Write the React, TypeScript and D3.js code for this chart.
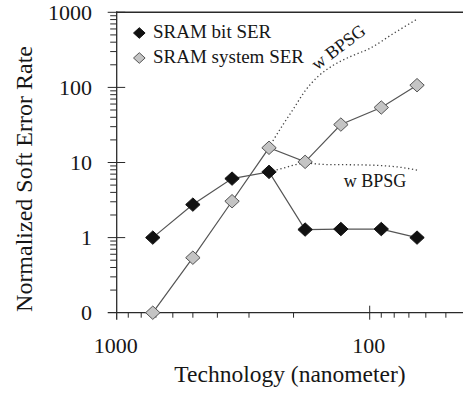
import { useEffect, useRef } from "react";
import * as d3 from "d3";

// technology node (nm) for each measured point
const techNodes = [720, 500, 350, 250, 180, 130, 90, 65];
const bitSer = [1, 2.75, 6.1, 7.5, 1.28, 1.3, 1.3, 1.0];
const systemSer = [0.1, 0.54, 3.05, 15.7, 10.2, 32, 54, 107];

// dotted "w BPSG" projections
const bpsgSystemTech = [250, 240, 220, 200, 180, 160, 140, 120, 100, 80, 65];
const bpsgSystemVals = [15.7, 20, 32, 52, 90, 140, 195, 255, 330, 530, 810];
const bpsgBitTech = [250, 220, 180, 150, 110, 90, 75, 65];
const bpsgBitVals = [7.5, 8.4, 9.8, 9.4, 9.3, 9.1, 8.6, 7.9];

const yTicks = [0.1, 1, 10, 100, 1000];
const yTickLabels = ["0", "1", "10", "100", "1000"];
const xTicks = [1000, 100];
const xTickLabels = ["1000", "100"];

const FONT = "'Liberation Serif', 'Times New Roman', serif";
const INK = "#161616";

const SerChart = () => {
  const ref = useRef<SVGSVGElement>(null);

  useEffect(() => {
    const el = ref.current;
    if (!el) return;
    const svg = d3.select(el);
    svg.selectAll("*").remove();

    const left = 116.7, bottom = 312.7, top = 12.3;
    const x = d3.scaleLog().domain([1000, 40]).range([left, left + 253 * Math.log10(25)]);
    const y = d3.scaleLog().domain([0.1, 1000]).range([bottom, top]);
    const axisCol = "#2a2a2a";

    // ── Frame / axes ────────────────────────────────────────────
    svg.append("line").attr("x1", left).attr("x2", 480).attr("y1", top).attr("y2", top)
      .attr("stroke", axisCol).attr("stroke-width", 1.6);
    svg.append("line").attr("x1", left).attr("x2", left).attr("y1", top - 1).attr("y2", bottom + 7)
      .attr("stroke", axisCol).attr("stroke-width", 1.3);
    svg.append("line").attr("x1", left - 9).attr("x2", 480).attr("y1", bottom).attr("y2", bottom)
      .attr("stroke", axisCol).attr("stroke-width", 1.3);

    const isMajor = (v: number) => Math.abs(Math.log10(v) - Math.round(Math.log10(v))) < 1e-6;

    // y ticks
    y.ticks().forEach(v => {
      if (v <= 0.1 + 1e-9 || v > 1000) return;
      const yy = y(v);
      svg.append("line")
        .attr("x1", isMajor(v) ? left - 9 : left - 6.5)
        .attr("x2", isMajor(v) ? left + 8.5 : left)
        .attr("y1", yy).attr("y2", yy)
        .attr("stroke", axisCol).attr("stroke-width", 1);
    });

    // x ticks
    x.ticks().forEach(v => {
      if (v >= 1000 || v < 40) return;
      const xx = x(v);
      svg.append("line")
        .attr("x1", xx).attr("x2", xx)
        .attr("y1", isMajor(v) ? bottom - 7 : bottom)
        .attr("y2", isMajor(v) ? bottom + 7 : bottom + 5)
        .attr("stroke", axisCol).attr("stroke-width", 1);
    });

    yTicks.forEach((v, i) => {
      svg.append("text")
        .attr("x", 92).attr("y", y(v) + 7.5)
        .attr("text-anchor", "end")
        .style("font-family", FONT).style("font-size", "22px").style("fill", INK)
        .text(yTickLabels[i]);
    });
    xTicks.forEach((v, i) => {
      svg.append("text")
        .attr("x", x(v) - 1).attr("y", 353)
        .attr("text-anchor", "middle")
        .style("font-family", FONT).style("font-size", "22px").style("fill", INK)
        .text(xTickLabels[i]);
    });

    // axis titles
    svg.append("text")
      .attr("x", 290).attr("y", 382)
      .attr("text-anchor", "middle")
      .style("font-family", FONT).style("font-size", "23.5px").style("fill", INK)
      .text("Technology (nanometer)");
    svg.append("text")
      .attr("transform", "translate(32,179) rotate(-90)")
      .attr("text-anchor", "middle")
      .style("font-family", FONT).style("font-size", "24px").style("fill", INK)
      .text("Normalized Soft Error Rate");

    // ── Dotted BPSG curves ──────────────────────────────────────
    const curve = d3.line<[number, number]>()
      .x(d => x(d[0])).y(d => y(d[1]))
      .curve(d3.curveMonotoneX);
    const dotted = (tech: number[], vals: number[]) =>
      svg.append("path")
        .attr("d", curve(tech.map((t, i) => [t, vals[i]] as [number, number])))
        .attr("fill", "none").attr("stroke", "#444")
        .attr("stroke-width", 1.3).attr("stroke-dasharray", "1.3,2.6");
    dotted(bpsgSystemTech, bpsgSystemVals);
    dotted(bpsgBitTech, bpsgBitVals);

    svg.append("text")
      .attr("transform", "translate(342,52) rotate(-37)")
      .attr("text-anchor", "middle")
      .style("font-family", FONT).style("font-size", "18px").style("fill", INK)
      .text("w BPSG");
    svg.append("text")
      .attr("x", 375).attr("y", 187)
      .attr("text-anchor", "middle")
      .style("font-family", FONT).style("font-size", "18px").style("fill", INK)
      .text("w BPSG");

    // ── Series ──────────────────────────────────────────────────
    const diamond = (hw: number, hh: number) => `M0,${-hh}L${hw},0L0,${hh}L${-hw},0Z`;
    const line = d3.line<[number, number]>().x(d => x(d[0])).y(d => y(d[1]));

    const series = [
      { vals: systemSer, fill: "#c4c4c4", stroke: "#555" },
      { vals: bitSer, fill: "#111", stroke: "#111" },
    ];
    series.forEach(s => {
      const pts = techNodes.map((t, i) => [t, s.vals[i]] as [number, number]);
      svg.append("path").attr("d", line(pts)).attr("fill", "none")
        .attr("stroke", "#555").attr("stroke-width", 1.2);
    });
    series.forEach(s => {
      techNodes.forEach((t, i) => {
        svg.append("path")
          .attr("d", diamond(7.2, 6.7))
          .attr("transform", `translate(${x(t)},${y(s.vals[i])})`)
          .attr("fill", s.fill).attr("stroke", s.stroke).attr("stroke-width", 1);
      });
    });

    // ── Legend ──────────────────────────────────────────────────
    const legend = [
      { label: "SRAM bit SER", fill: "#111", stroke: "#111" },
      { label: "SRAM system SER", fill: "#c4c4c4", stroke: "#555" },
    ];
    legend.forEach((d, i) => {
      const ly = 33 + i * 25;
      svg.append("path").attr("d", diamond(5.8, 5.3))
        .attr("transform", `translate(139.3,${ly})`)
        .attr("fill", d.fill).attr("stroke", d.stroke).attr("stroke-width", 1);
      svg.append("text")
        .attr("x", 153).attr("y", ly + 4.5)
        .style("font-family", FONT).style("font-size", "19px").style("fill", INK)
        .text(d.label);
    });

    return () => { svg.selectAll("*").remove(); };
  }, []);

  return (
    <svg ref={ref} width={463} height={396}
      style={{ position: "absolute", left: 0, top: 0, display: "block", background: "#fff" }} />
  );
};

export default function App() {
  return <SerChart />;
}
